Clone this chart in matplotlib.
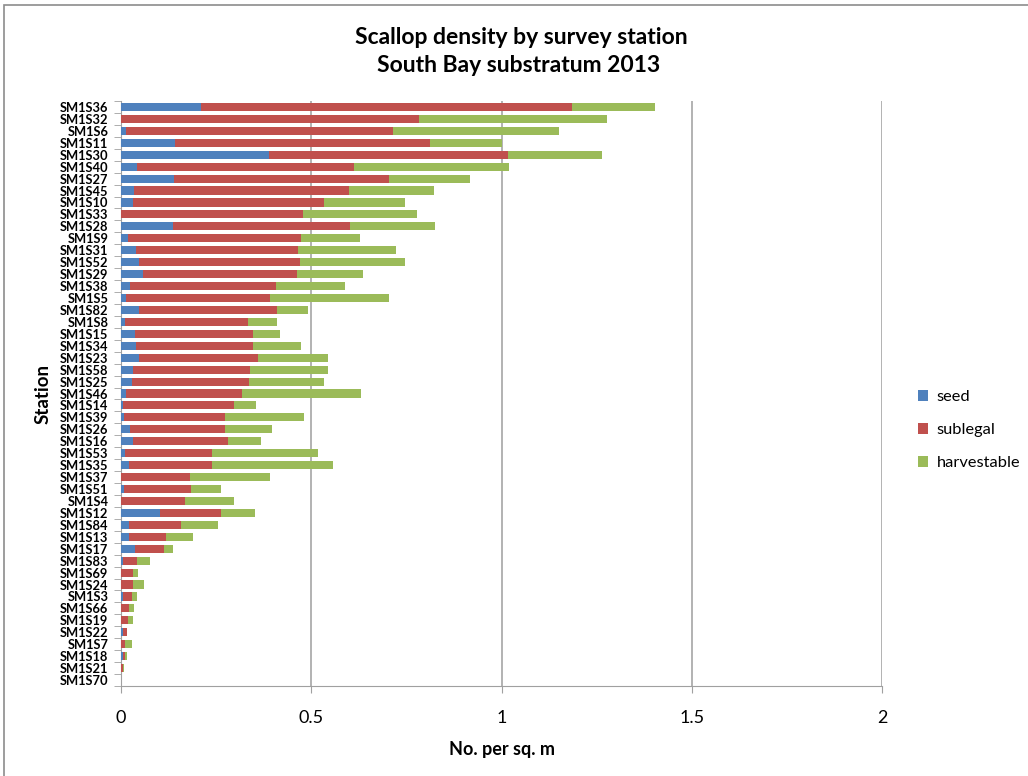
import matplotlib
matplotlib.use('Agg')
import matplotlib.pyplot as plt
import numpy as np
from matplotlib.patches import Rectangle

plt.rcParams['font.family'] = ['Lato', 'DejaVu Sans']

# Stations, listed top to bottom
estaciones = ['SM1S36', 'SM1S32', 'SM1S6', 'SM1S11', 'SM1S30', 'SM1S40', 'SM1S27',
              'SM1S45', 'SM1S10', 'SM1S33', 'SM1S28', 'SM1S9', 'SM1S31', 'SM1S52',
              'SM1S29', 'SM1S38', 'SM1S5', 'SM1S82', 'SM1S8', 'SM1S15', 'SM1S34',
              'SM1S23', 'SM1S58', 'SM1S25', 'SM1S46', 'SM1S14', 'SM1S39', 'SM1S26',
              'SM1S16', 'SM1S53', 'SM1S35', 'SM1S37', 'SM1S51', 'SM1S4', 'SM1S12',
              'SM1S84', 'SM1S13', 'SM1S17', 'SM1S83', 'SM1S69', 'SM1S24', 'SM1S3',
              'SM1S66', 'SM1S19', 'SM1S22', 'SM1S7', 'SM1S18', 'SM1S21', 'SM1S70']

# Densities (no. per sq. m)
seed = [0.210, 0.000, 0.013, 0.142, 0.389, 0.043, 0.138,
        0.033, 0.031, 0.000, 0.137, 0.018, 0.039, 0.048,
        0.058, 0.024, 0.013, 0.046, 0.011, 0.037, 0.039,
        0.048, 0.032, 0.028, 0.013, 0.005, 0.008, 0.024,
        0.032, 0.011, 0.021, 0.000, 0.008, 0.000, 0.102,
        0.021, 0.021, 0.037, 0.005, 0.000, 0.000, 0.005,
        0.000, 0.000, 0.005, 0.000, 0.006, 0.000, 0.000]

sublegal = [0.975, 0.783, 0.701, 0.669, 0.628, 0.569, 0.567,
            0.566, 0.502, 0.478, 0.465, 0.454, 0.426, 0.422,
            0.404, 0.383, 0.378, 0.365, 0.323, 0.311, 0.309,
            0.311, 0.307, 0.308, 0.306, 0.291, 0.265, 0.249,
            0.249, 0.229, 0.219, 0.181, 0.177, 0.167, 0.161,
            0.136, 0.096, 0.075, 0.037, 0.031, 0.031, 0.023,
            0.021, 0.018, 0.011, 0.011, 0.005, 0.006, 0.000]

harvestable = [0.219, 0.494, 0.437, 0.189, 0.247, 0.407, 0.212,
               0.223, 0.214, 0.300, 0.224, 0.157, 0.257, 0.276,
               0.174, 0.181, 0.314, 0.081, 0.077, 0.070, 0.125,
               0.184, 0.206, 0.197, 0.311, 0.060, 0.207, 0.125,
               0.087, 0.278, 0.316, 0.210, 0.079, 0.131, 0.088,
               0.098, 0.071, 0.025, 0.033, 0.013, 0.030, 0.013,
               0.012, 0.013, 0.001, 0.017, 0.006, 0.002, 0.000]

seed = np.array(seed)
sublegal = np.array(sublegal)
harvestable = np.array(harvestable)
pos = np.arange(len(estaciones))

fig = plt.figure(figsize=(10.28, 7.76), dpi=100)
ax = fig.add_axes([121 / 1028, 1 - 686 / 776, 761 / 1028, 585 / 776])

alto = 0.68
ax.barh(pos, seed, height=alto, color='#4F81BD', label='seed', zorder=3)
ax.barh(pos, sublegal, height=alto, left=seed, color='#C0504D', label='sublegal', zorder=3)
ax.barh(pos, harvestable, height=alto, left=seed + sublegal, color='#9BBB59',
        label='harvestable', zorder=3)

ax.set_xlim(0, 2)
ax.set_ylim(len(estaciones) - 0.5, -0.5)
ax.set_xticks([0, 0.5, 1, 1.5, 2])
ax.set_xticklabels(['0', '0.5', '1', '1.5', '2'], fontsize=13)
ax.set_yticks(pos)
ax.set_yticklabels(estaciones, fontsize=9.3, fontweight='bold')
ax.set_yticks(np.arange(len(estaciones) + 1) - 0.5, minor=True)
ax.tick_params(axis='y', which='major', length=0, pad=9)
ax.tick_params(axis='y', which='minor', length=5, color='#A0A0A0')
ax.tick_params(axis='x', length=5, color='#A0A0A0', pad=12)
ax.grid(axis='x', color='#A6A6A6', linewidth=1.2, zorder=0)

for lado in ['top', 'right']:
    ax.spines[lado].set_visible(False)
ax.spines['left'].set_color('#A0A0A0')
ax.spines['bottom'].set_color('#A0A0A0')

ax.set_xlabel('No. per sq. m', fontsize=13, fontweight='bold', labelpad=11)
ax.set_ylabel('Station', fontsize=13.5, fontweight='bold', labelpad=6)

fig.text(521 / 1028, 1 - 37 / 776, 'Scallop density by survey station',
         ha='center', va='center', fontsize=16.5, fontweight='bold')
fig.text(519 / 1028, 1 - 66 / 776, 'South Bay substratum 2013',
         ha='center', va='center', fontsize=16.5, fontweight='bold')

ax.legend(loc='center left', bbox_to_anchor=(903 / 1028, 1 - 430 / 776),
          bbox_transform=fig.transFigure, frameon=False, fontsize=11.8,
          handlelength=0.65, handleheight=0.65, labelspacing=1.15, handletextpad=0.5)

# Chart border
fig.patches.append(Rectangle((4 / 1028, -0.1), 1.2, 1 - 5 / 776 + 0.1,
                             transform=fig.transFigure, fill=False,
                             edgecolor='#8C8C8C', linewidth=1.2))

fig.savefig('out.png', dpi=100)
